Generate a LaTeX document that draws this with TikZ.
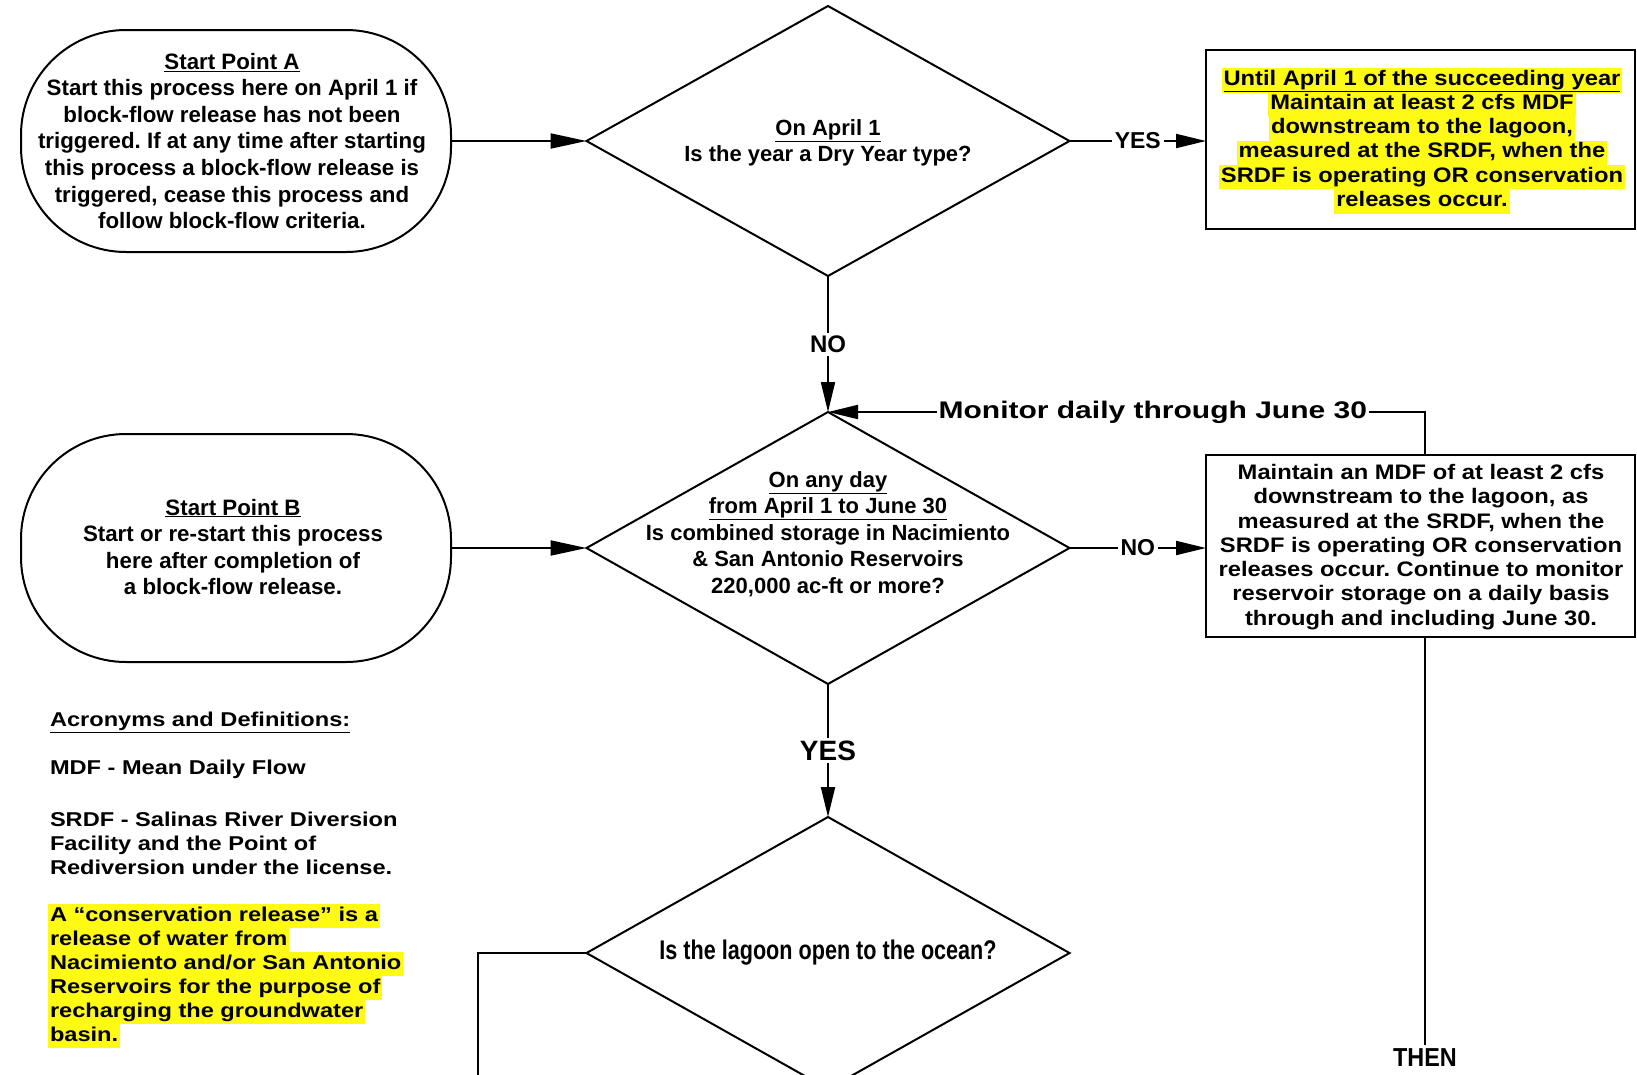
\documentclass[tikz,border=0pt]{standalone}
\usepackage{fontspec}
\setmainfont{Liberation Sans}
\newfontfamily\fA{Liberation Sans Bold}
\newfontfamily\fW{Liberation Sans Bold}[FakeStretch=1.13]
\newfontfamily\fD{Liberation Sans Bold}[FakeStretch=1.18]
\newfontfamily\fM{Liberation Sans Bold}[FakeStretch=1.25]
\newfontfamily\fN{Liberation Sans Bold}[FakeStretch=0.8]
\newfontfamily\fT{Liberation Sans Bold}[FakeStretch=0.9]
\usetikzlibrary{shapes.geometric,arrows.meta,calc}
\definecolor{hly}{RGB}{255,250,20}
\setlength{\fboxsep}{0pt}
\frenchspacing
\newcommand\hlt[1]{\colorbox{hly}{\hspace{2pt}\rule[-0.3\baselineskip]{0pt}{\baselineskip}#1\hspace{2pt}}}
\tikzset{
  stad/.style={draw, rectangle, rounded corners=105pt, minimum width=430pt, inner sep=0pt, outer sep=0pt},
  dia/.style={draw, diamond, minimum width=483pt, minimum height=270pt, inner sep=0pt, outer sep=0pt},
  boxx/.style={draw, rectangle, minimum width=429pt, inner sep=0pt, outer sep=0pt},
  txt/.style={align=center, inner sep=0pt},
  lab/.style={fill=white, inner sep=3pt, font=\fA\fontsize{23}{26}\selectfont},
  arr/.style={-{Triangle[length=30pt,width=14pt]}},
  arrl/.style={-{Triangle[length=36pt,width=15pt]}},
  deftxt/.style={align=left, inner sep=0pt, font=\fD\fontsize{20}{24}\selectfont},
}
\begin{document}
\begin{tikzpicture}[x=1pt,y=-1pt,line width=2pt]
\useasboundingbox (0,0) rectangle (1637,1074);
\fill[white] (0,0) rectangle (1637,1074);
\clip (0,0) rectangle (1637,1074);

% start points
\node[stad, minimum height=222pt] (sA) at (236,141) {};
\node[txt, font=\fA\fontsize{22.3}{26.6}\selectfont] (tA) at (232,141)
  {\underline{Start Point A}\\Start this process here on April 1 if\\block-flow release has not been\\triggered. If at any time after starting\\this process a block-flow release is\\triggered, cease this process and\\follow block-flow criteria.};
\node[stad, minimum height=228pt] (sB) at (236,548) {};
\node[txt, font=\fA\fontsize{22.3}{26.6}\selectfont] (tB) at (233,547)
  {\underline{Start Point B}\\Start or re-start this process\\here after completion of\\a block-flow release.};

% diamonds
\node[dia] (d1) at (828,141) {};
\node[txt, font=\fA\fontsize{22}{26}\selectfont] (t1) at (828,143)
  {\underline{On April 1}\\Is the year a Dry Year type?};
\node[dia, minimum height=272pt] (d2) at (828,548) {};
\node[txt, font=\fA\fontsize{22}{26.6}\selectfont] (t2) at (828,534)
  {\underline{On any day}\\\underline{from April 1 to June 30}\\Is combined storage in Nacimiento\\\& San Antonio Reservoirs\\220,000 ac-ft or more?};
\node[dia, minimum height=272pt] (d3) at (828,953) {};
\node[txt, font=\fN\fontsize{27}{30}\selectfont] (t3) at (828,953) {Is the lagoon open to the ocean?};

% boxes
\node[boxx, minimum height=179pt] (box1) at (1420.5,139.5) {};
\node[txt, font=\fW\fontsize{21}{24.2}\selectfont] (tb1) at (1422,141)
  {\hlt{\underline{Until April 1 of the succeeding year}}\\\hlt{Maintain at least 2 cfs MDF}\\\hlt{downstream to the lagoon,}\\\hlt{measured at the SRDF, when the}\\\hlt{SRDF is operating OR conservation}\\\hlt{releases occur.}};
\node[boxx, minimum height=182pt] (box2) at (1420.5,546) {};
\node[txt, font=\fW\fontsize{21}{24.3}\selectfont] (tb2) at (1421,547)
  {Maintain an MDF of at least 2 cfs\\downstream to the lagoon, as\\measured at the SRDF, when the\\SRDF is operating OR conservation\\releases occur. Continue to monitor\\reservoir storage on a daily basis\\through and including June 30.};

% definitions
\node[deftxt, anchor=west] (acr) at (49,722) {\underline{Acronyms and Definitions:}};
\node[deftxt, anchor=west] (mdf) at (49,769) {MDF - Mean Daily Flow};
\node[deftxt, anchor=north west] (srdf) at (49,810.5)
  {SRDF - Salinas River Diversion\\Facility and the Point of\\Rediversion under the license.};
\node[deftxt, anchor=north west] (cons) at (47,903.4)
  {\hlt{A “conservation release” is a}\\\hlt{release of water from}\\\hlt{Nacimiento and/or San Antonio}\\\hlt{Reservoirs for the purpose of}\\\hlt{recharging the groundwater}\\\hlt{basin.}};

\node[font=\fT\fontsize{26}{28}\selectfont, inner sep=3pt] (then) at (1425,1058) {THEN};
\coordinate (lb) at (478,1090);

% connectors
\draw[arrl] (sA.east) -- (d1.west);
\draw[arrl] (sB.east) -- (d2.west);
\draw[arr] (d1.east) -- node[lab] (ly1) {YES} (d1.east -| box1.west);
\draw[arr] (d1.south) -- node[lab, font=\fA\fontsize{24}{26}\selectfont] (ln1) {NO} (d2.north);
\draw[arr] (d2.east) -- node[lab] (ln2) {NO} (d2.east -| box2.west);
\draw[arr] (d2.south) -- node[lab, font=\fA\fontsize{28}{30}\selectfont] (ly2) {YES} (d3.north);
\draw[arr] ([xshift=4.5pt]box2.north) |- node[lab, pos=0.728, inner sep=2pt, font=\fM\fontsize{24}{26}\selectfont] (lmon) {Monitor daily through June 30} (d2.north);
\draw ([xshift=4.5pt]box2.south) -- (then.north);
\draw (d3.west) -| (lb);
\end{tikzpicture}
\end{document}
